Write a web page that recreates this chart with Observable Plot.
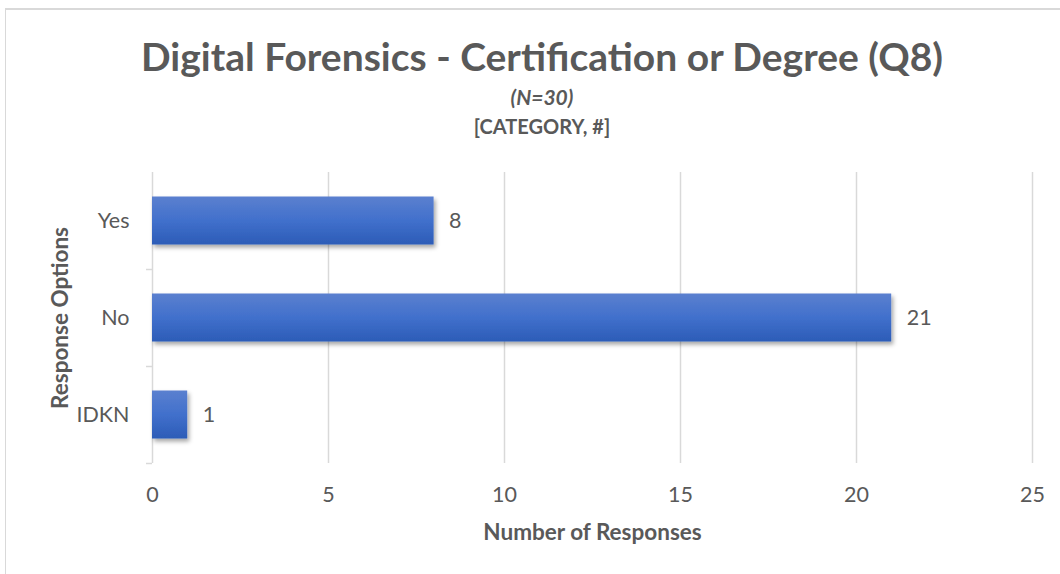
<!DOCTYPE html>
<html>
<head>
<meta charset="utf-8">
<script src="https://cdn.jsdelivr.net/npm/d3@7"></script>
<script src="https://cdn.jsdelivr.net/npm/@observablehq/plot@0.6"></script>
<style>
  html, body { margin: 0; padding: 0; background: #fff; }
  body { width: 1060px; height: 574px; position: relative; overflow: hidden; font-family: Lato, "Open Sans", sans-serif; color: #595959; }
  .frame { position: absolute; left: 5px; top: 8px; width: 1100px; height: 600px; border-top: 2px solid #d9d9d9; border-left: 1px solid #d9d9d9; }
  .t { position: absolute; left: 0; width: 1084px; text-align: center; white-space: nowrap; }
  #title { top: 32px; font-size: 39px; font-weight: bold; line-height: 48px; }
  #sub1 { top: 84px; font-size: 21px; font-weight: bold; font-style: italic; line-height: 26px; }
  #sub2 { top: 113px; font-size: 20px; font-weight: bold; line-height: 26px; }
  #chart { position: absolute; left: 0; top: 150px; }
</style>
</head>
<body>
<div class="frame"></div>
<div class="t" id="title">Digital Forensics - Certification or Degree (Q8)</div>
<div class="t" id="sub1">(N=30)</div>
<div class="t" id="sub2">[CATEGORY, #]</div>
<div id="chart"></div>
<script>
// Survey responses
const categories = ["Yes", "No", "IDKN"];
const counts = [8, 21, 1];
const xTicks = [0, 5, 10, 15, 20, 25];
const gridValues = [5, 10, 15, 20, 25];

const rows = categories.map((c, i) => ({category: c, count: counts[i]}));

const W = 1060, H = 420;
const mTop = 22, mBottom = 107, mLeft = 152, mRight = 28;
const band = (H - mTop - mBottom) / categories.length;
const ink = "#595959";
const gridColor = "#d9d9d9";
const tickFont = 21.5;
const titleFont = 22.5;

const chart = Plot.plot({
  width: W,
  height: H,
  marginTop: mTop,
  marginBottom: mBottom,
  marginLeft: mLeft,
  marginRight: mRight,
  style: {fontFamily: "Lato, 'Open Sans', sans-serif", fontSize: tickFont + "px", color: ink, background: "transparent", overflow: "visible"},
  x: {domain: [0, 25]},
  y: {domain: categories, padding: 0},
  marks: [
    Plot.ruleX(gridValues, {stroke: gridColor, strokeWidth: 1.5}),
    Plot.ruleX([0], {stroke: gridColor, strokeWidth: 1.5}),
    // tick marks on the category axis at band boundaries
    Plot.ruleY(categories, {y: d => d, x1: 0, x2: 0, insetLeft: -6, dy: band / 2, stroke: gridColor, strokeWidth: 1.5}),
    Plot.barX(rows, {y: "category", x: "count", fill: "url(#barGrad)", insetTop: 24.5, insetBottom: 24.5}),
    Plot.text(rows, {y: "category", x: "count", text: d => String(d.count), textAnchor: "start", dx: 15, fill: ink, fontSize: tickFont}),
    Plot.axisX(xTicks, {tickSize: 0, tickPadding: 23.5, label: null, fill: ink, fontSize: tickFont}),
    Plot.axisY({tickSize: 0, tickPadding: 23, label: null, fill: ink, fontSize: tickFont}),
    Plot.text(["Number of Responses"], {frameAnchor: "bottom", dy: 76, fontWeight: "bold", fontSize: titleFont, fill: ink}),
    Plot.text(["Response Options"], {frameAnchor: "left", textAnchor: "middle", dx: -92, rotate: -90, fontWeight: "bold", fontSize: titleFont, fill: ink})
  ]
});

// gradient and soft shadow used by the bars
const svg = d3.select(chart);
const defs = svg.insert("defs", ":first-child");
const grad = defs.append("linearGradient").attr("id", "barGrad").attr("x1", 0).attr("y1", 0).attr("x2", 0).attr("y2", 1);
grad.append("stop").attr("offset", "0%").attr("stop-color", "#5b80cf");
grad.append("stop").attr("offset", "50%").attr("stop-color", "#4170cc");
grad.append("stop").attr("offset", "100%").attr("stop-color", "#2c5cb7");
const f = defs.append("filter").attr("id", "barShadow").attr("x", "-10%").attr("y", "-20%").attr("width", "130%").attr("height", "160%");
f.append("feDropShadow").attr("dx", 2).attr("dy", 3).attr("stdDeviation", 2).attr("flood-color", "#000").attr("flood-opacity", 0.35);
svg.selectAll("g[aria-label='bar']").attr("filter", "url(#barShadow)");

document.getElementById("chart").append(chart);
</script>
</body>
</html>
